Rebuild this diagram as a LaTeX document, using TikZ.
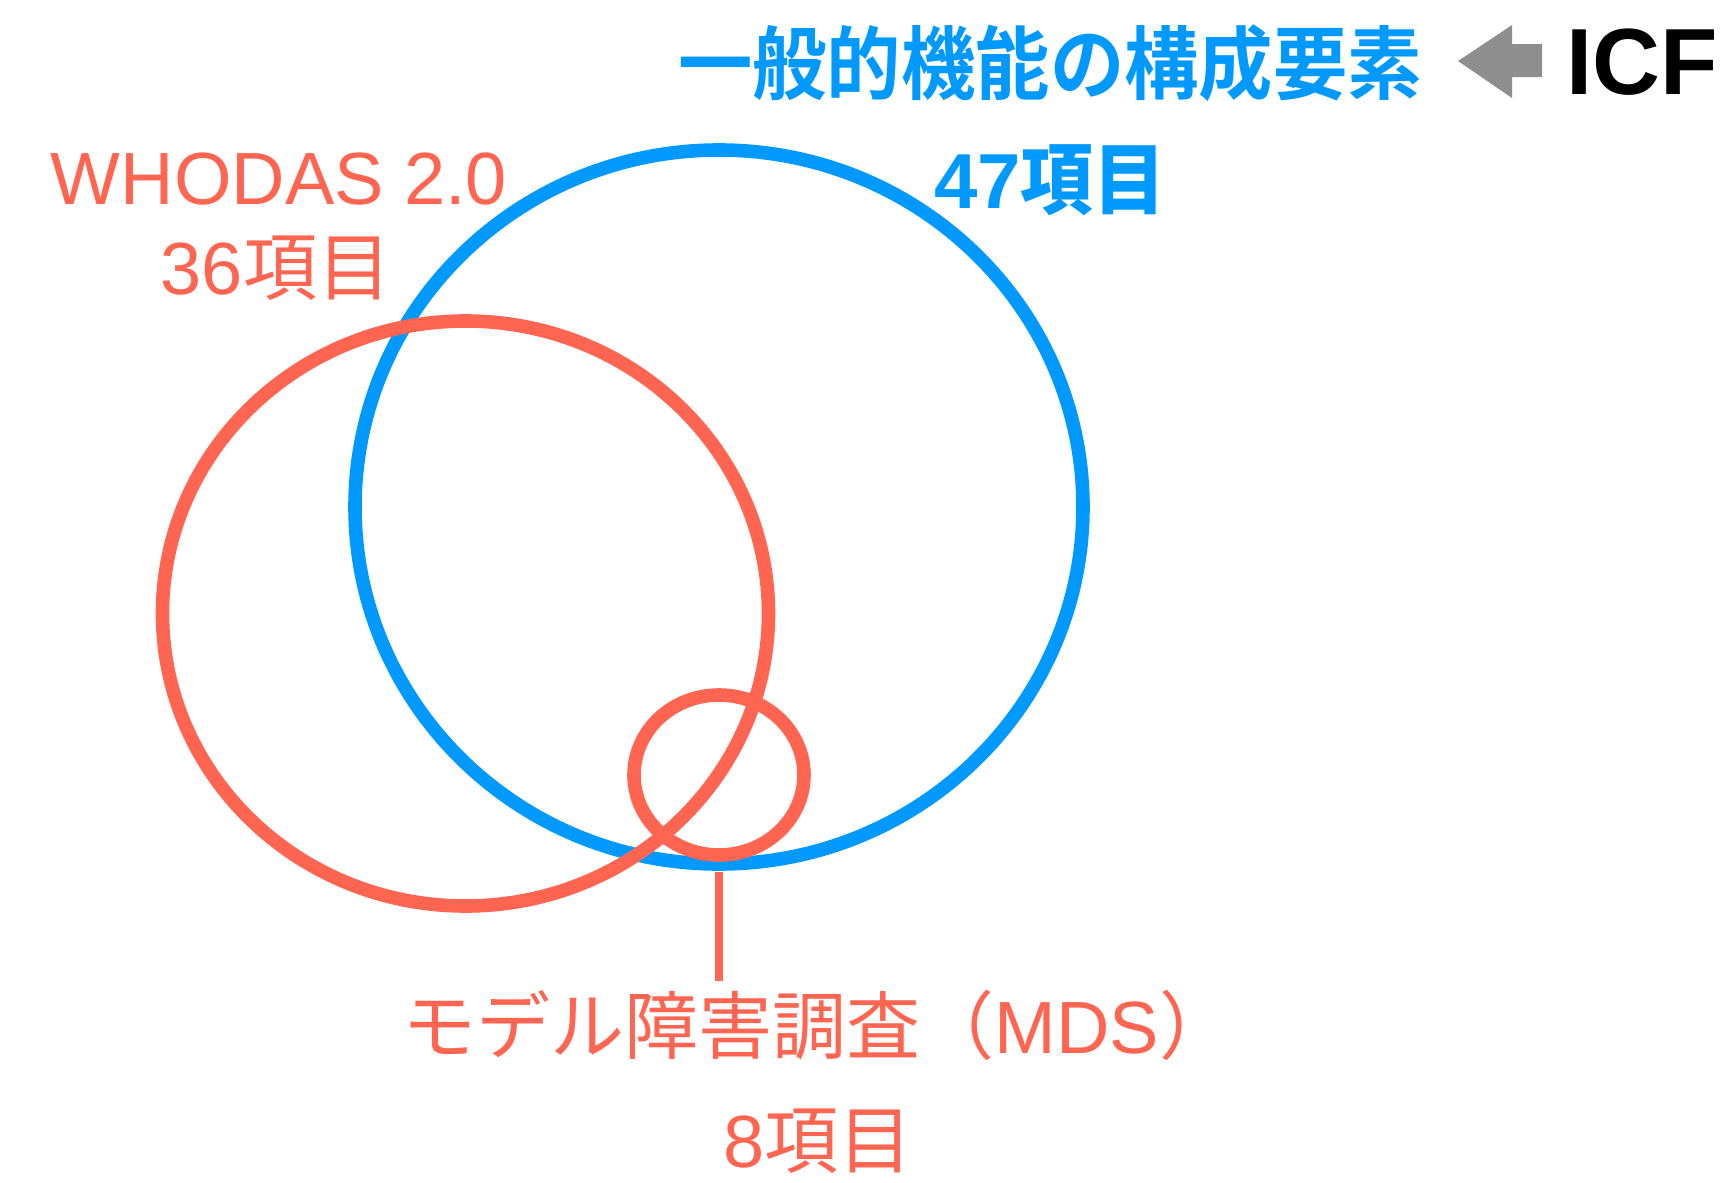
\documentclass[tikz,border=0pt]{standalone}
\usepackage{fontspec}
\setmainfont{Liberation Sans}
\newfontfamily\jpfont{Noto Sans CJK JP}
\newfontfamily\jptitle[FakeStretch=0.93]{Noto Sans CJK JP Bold}

\definecolor{icfblue}{RGB}{0,153,255}
\definecolor{tomatored}{RGB}{255,101,80}
\definecolor{arrowgray}{RGB}{142,142,142}

\tikzset{every picture/.style={line width=0.75pt}}
\tikzset{
  bluering/.style={draw=icfblue, line width=6.8pt},
  redring/.style={draw=tomatored, line width=6.8pt},
  redlabel/.style={text=tomatored, inner sep=0pt, font=\fontsize{37}{40}\selectfont},
  bluelabel/.style={text=icfblue, inner sep=0pt, font=\fontsize{39}{42}\selectfont\bfseries}
}

\begin{document}
\begin{tikzpicture}[x=0.5pt,y=0.5pt,yscale=-1,xscale=1]
\useasboundingbox (0,0) rectangle (1726,1183);

%Ellipse [ICF]
\coordinate (icfc) at (719,507);
\draw [bluering] (icfc) ellipse [x radius=364, y radius=357];
%Ellipse [WHODAS]
\coordinate (whodasc) at (465.5,613.5);
\draw [redring] (whodasc) ellipse [x radius=303, y radius=292.5];
%Ellipse [MDS]
\coordinate (mdsc) at (719,775);
\draw [redring] (mdsc) ellipse [x radius=85, y radius=80];

%Arrow
\fill [arrowgray] (1458,61) -- (1512,25) -- (1512,44) -- (1542,44) -- (1542,77) -- (1512,77) -- (1512,98) -- cycle ;

% Text Node
\node (title) [anchor=center, inner sep=0pt, text=icfblue] at (1050,63) {\fontsize{40}{44}\jptitle 一般的機能の構成要素};
% Text Node
\node (icf) [anchor=center, inner sep=0pt] at (1642,62) {\fontsize{47}{52}\selectfont\bfseries ICF};
% Text Node
\node (whodas) [redlabel] at (279,179) {WHODAS 2.0};
% Text Node
\node (whodasn) [redlabel] at (276,268) {36{\jpfont 項目}};
% Text Node
\node (icfn) [bluelabel] at (1050,180) {47{\jptitle 項目}};
% Text Node
\node (mds) [redlabel, anchor=west] at (402,1025) {{\jpfont モデル障害調査（}MDS{\jpfont ）}};
% Text Node
\node (mdsn) [redlabel] at (818,1141) {8{\jpfont 項目}};

%Straight Lines [MDS tick]
\coordinate (tick) at (719,872);
\draw [draw=tomatored, line width=4pt] (tick) -- (tick |- 0,981) ;

\end{tikzpicture}
\end{document}
